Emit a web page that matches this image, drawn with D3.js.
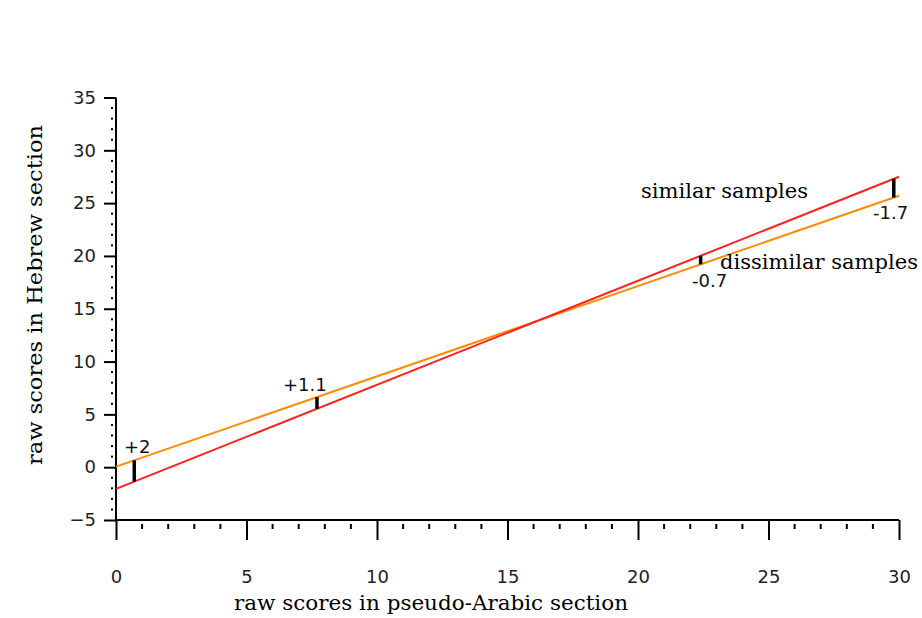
<!DOCTYPE html>
<html>
<head>
<meta charset="utf-8">
<script src="https://cdn.jsdelivr.net/npm/d3@7"></script>
<style>
  body { margin: 0; background: #fff; }
  svg { display: block; }
  .tick text { font-family: "DejaVu Sans", sans-serif; }
</style>
</head>
<body>
<svg width="922" height="618"></svg>
<script>
// data
var xTicks = [0, 5, 10, 15, 20, 25, 30];
var yTicks = [-5, 0, 5, 10, 15, 20, 25, 30, 35];
var similarLine = [[0, -2.05], [30, 27.5]];     // red
var dissimilarLine = [[0, 0.05], [30, 25.7]];   // orange
var gapX = [0.7, 7.7, 22.4, 29.8];
var gapLabels = ["+2", "+1.1", "-0.7", "-1.7"];

var svg = d3.select('svg');

var x = d3.scaleLinear().domain([0, 30]).range([116, 899]);
var y = d3.scaleLinear().domain([-5, 35]).range([520, 97.5]);

function lineAt(l, v) {
  return l[0][1] + (l[1][1] - l[0][1]) * (v - l[0][0]) / (l[1][0] - l[0][0]);
}

// axes
var xAxis = svg.append('g').attr('transform', 'translate(0,' + y(-5) + ')')
  .call(d3.axisBottom(x).tickValues(xTicks).tickSize(20).tickPadding(30).tickFormat(d3.format('d')));
xAxis.select('.domain').attr('stroke-width', 2).attr('d', 'M' + x(0) + ',0H' + x(30));
xAxis.selectAll('.tick line').attr('stroke-width', 2);
xAxis.selectAll('.tick text').attr('font-size', 18).attr('fill', '#222');

// minor x ticks
svg.append('g').selectAll('line')
  .data(d3.range(1, 30).filter(function(d) { return d % 5 != 0; }))
  .enter().append('line')
    .attr('x1', function(d) { return x(d); })
    .attr('x2', function(d) { return x(d); })
    .attr('y1', y(-5) + 4).attr('y2', y(-5) + 9)
    .attr('stroke', '#000').attr('stroke-width', 2);

var yAxis = svg.append('g').attr('transform', 'translate(' + x(0) + ',0)')
  .call(d3.axisLeft(y).tickValues(yTicks).tickSize(12).tickPadding(8)
    .tickFormat(function(d) { return d < 0 ? '\u2212' + (-d) : d; }));
yAxis.select('.domain').attr('stroke-width', 2).attr('d', 'M0,' + y(-5) + 'V' + y(35));
yAxis.selectAll('.tick line').attr('stroke-width', 2);
yAxis.selectAll('.tick text').attr('font-size', 18).attr('fill', '#222');

// minor y ticks (dots)
svg.append('g').selectAll('rect')
  .data(d3.range(-4, 35).filter(function(d) { return d % 5 != 0; }))
  .enter().append('rect')
    .attr('x', x(0) - 5).attr('y', function(d) { return y(d) - 1; })
    .attr('width', 2).attr('height', 2).attr('fill', '#000');

// lines
var line = d3.line().x(function(d) { return x(d[0]); }).y(function(d) { return y(d[1]); });
svg.append('path').datum(dissimilarLine).attr('d', line)
  .attr('fill', 'none').attr('stroke', '#ff8c00').attr('stroke-width', 2);
svg.append('path').datum(similarLine).attr('d', line)
  .attr('fill', 'none').attr('stroke', '#ff2020').attr('stroke-width', 2);

// gap bars
svg.append('g').selectAll('line')
  .data(gapX)
  .enter().append('line')
    .attr('x1', function(d) { return x(d); })
    .attr('x2', function(d) { return x(d); })
    .attr('y1', function(d) { return y(lineAt(similarLine, d)); })
    .attr('y2', function(d) { return y(lineAt(dissimilarLine, d)); })
    .attr('stroke', '#000').attr('stroke-width', 3.5);

// gap labels
var labPos = [[124, 453], [283, 391], [692, 287], [873, 219]];
svg.append('g').selectAll('text')
  .data(gapLabels)
  .enter().append('text')
    .attr('x', function(d, i) { return labPos[i][0]; })
    .attr('y', function(d, i) { return labPos[i][1]; })
    .attr('font-family', '"DejaVu Sans", sans-serif')
    .attr('font-size', 18).attr('fill', '#111')
    .text(function(d) { return d; });

// series labels
function serif(sel, len) {
  return sel.attr('font-family', '"DejaVu Serif", serif').attr('font-size', 20)
    .attr('textLength', len).attr('lengthAdjust', 'spacingAndGlyphs');
}
serif(svg.append('text').attr('x', 641).attr('y', 198), 167)
  .text('similar samples');
serif(svg.append('text').attr('x', 720).attr('y', 269), 198)
  .text('dissimilar samples');

// axis titles
serif(svg.append('text').attr('x', 234).attr('y', 610), 394)
  .text('raw scores in pseudo-Arabic section');
serif(svg.append('text').attr('transform', 'translate(42,' + 465 + ') rotate(-90)'), 340)
  .text('raw scores in Hebrew section');
</script>
</body>
</html>
